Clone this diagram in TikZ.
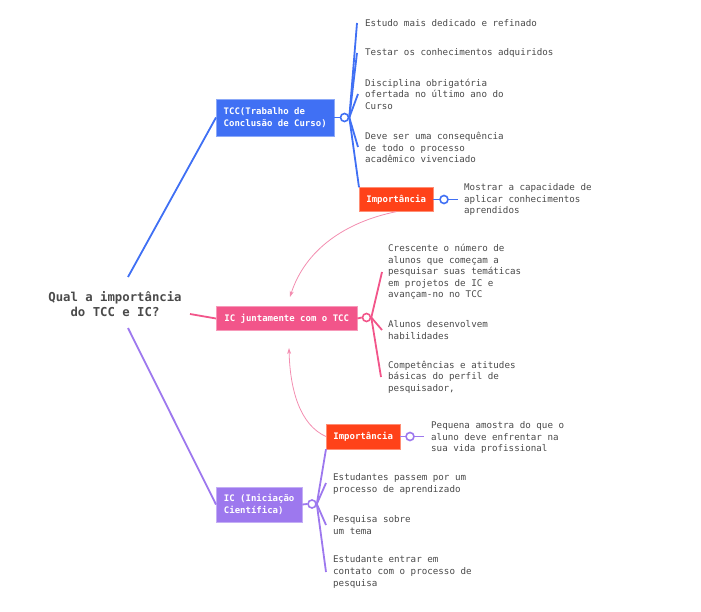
\documentclass[tikz,border=0pt]{standalone}
\usepackage{fontspec}
\setmonofont[WordSpace={1,0,0}]{DejaVu Sans Mono}
\usetikzlibrary{arrows.meta}
\definecolor{cblue}{HTML}{4070F4}
\definecolor{cred}{HTML}{FF4219}
\definecolor{cpink}{HTML}{F2558A}
\definecolor{cpinkl}{HTML}{F38DB0}
\definecolor{cpurple}{HTML}{9D78EE}
\definecolor{ctext}{HTML}{4A4A4A}
\tikzset{
  box/.style={anchor=west, inner xsep=6.5pt, inner ysep=5pt, text=white, font=\ttfamily\bfseries\fontsize{9}{11.6}\selectfont, align=left},
  leaf/.style={anchor=west, inner sep=0pt, text=ctext, font=\ttfamily\fontsize{9.2}{11.6}\selectfont, align=left},
  hub/.style={circle, draw=#1, fill=white, line width=1.6pt, minimum size=8pt, inner sep=0pt},
  link/.style={draw=#1, line width=1.8pt},
  rel/.style={draw=cpinkl, line width=0.8pt, -{Stealth[length=6pt,width=4pt]}},
}
\begin{document}
\begin{tikzpicture}[x=1pt,y=-1pt]
\useasboundingbox (0,0) rectangle (701,612);
% root
\node[font=\ttfamily\bfseries\fontsize{12.3}{15}\selectfont, text=ctext, align=center] (root) at (115,304) {Qual a importância\\do TCC e IC?};
\coordinate (rb) at (128,277);
\coordinate (rp) at (190,314);
\coordinate (ru) at (128,328);

% TCC branch
\node[box, fill=cblue, draw=cblue!60, minimum height=37pt, minimum width=118pt] (tcc) at (216,117.5) {TCC(Trabalho de\\Conclusão de Curso)};
\node[hub=cblue] (h1) at (344.5,117.5) {};
\draw[link=cblue] (rb) -- (tcc.west);
\draw[link=cblue] (tcc.east) -- (h1.west);
\coordinate (e1) at (357,23);
\coordinate (e2) at (357,53);
\coordinate (e3) at (358,94);
\coordinate (e4) at (358,147);
\node[leaf] (t1) at (365,23) {Estudo mais dedicado e refinado};
\node[leaf] (t2) at (365,53) {Testar os conhecimentos adquiridos};
\node[leaf] (t3) at (365,94) {Disciplina obrigatória\\ofertada no último ano do\\Curso};
\node[leaf] (t4) at (365,147.5) {Deve ser uma consequência\\de todo o processo\\acadêmico vivenciado};
\node[box, fill=cred, draw=cred!60, minimum height=24pt, minimum width=74pt] (imp1) at (359,199.5) {Importância};
\foreach \e in {e1,e2,e3,e4} \draw[link=cblue] (h1.east) -- (\e);
\draw[link=cblue] (h1.east) -- (imp1.north west);
\node[hub=cblue] (h2) at (444,199.5) {};
\coordinate (e5) at (458,199.5);
\draw[link=cblue] (imp1.east) -- (h2.west);
\draw[link=cblue] (h2.east) -- (e5);
\node[leaf] (t5) at (464,199.5) {Mostrar a capacidade de\\aplicar conhecimentos\\aprendidos};

% pink branch
\node[box, fill=cpink, draw=cpink!60, minimum height=24pt, minimum width=141pt] (icj) at (216,318.5) {IC juntamente com o TCC};
\node[hub=cpink] (h3) at (366.5,317.5) {};
\draw[link=cpink] (rp) -- (icj.west);
\draw[link=cpink] (icj.east) -- (h3.west);
\coordinate (p1) at (382,272);
\coordinate (p2) at (382,330);
\coordinate (p3) at (381,377);
\foreach \e in {p1,p2,p3} \draw[link=cpink] (h3.east) -- (\e);
\node[leaf] (q1) at (388,272) {Crescente o número de\\alunos que começam a\\pesquisar suas temáticas\\em projetos de IC e\\avançam-no no TCC};
\node[leaf] (q2) at (388,330) {Alunos desenvolvem\\habilidades};
\node[leaf] (q3) at (388,377) {Competências e atitudes\\básicas do perfil de\\pesquisador,};

% purple branch
\node[box, fill=cpurple, draw=cpurple!60, minimum height=35pt, minimum width=86pt] (ic) at (216,504.5) {IC (Iniciação\\Científica)};
\node[hub=cpurple] (h4) at (312,504) {};
\draw[link=cpurple] (ru) -- (ic.west);
\draw[link=cpurple] (ic.east) -- (h4.west);
\node[box, fill=cred, draw=cred!60, minimum height=25pt, minimum width=74pt] (imp2) at (326,436.5) {Importância};
\node[hub=cpurple] (h5) at (410,436.5) {};
\coordinate (u5) at (424,436.5);
\draw[link=cpurple] (imp2.east) -- (h5.west);
\draw[link=cpurple] (h5.east) -- (u5);
\node[leaf] (w5) at (431,437.5) {Pequena amostra do que o\\aluno deve enfrentar na\\sua vida profissional};
\coordinate (u1) at (326,483);
\coordinate (u2) at (326,525);
\coordinate (u3) at (326,572);
\draw[link=cpurple] (h4.east) -- (imp2.south west);
\foreach \e in {u1,u2,u3} \draw[link=cpurple] (h4.east) -- (\e);
\node[leaf] (w1) at (333,484) {Estudantes passem por um\\processo de aprendizado};
\node[leaf] (w2) at (333,525) {Pesquisa sobre\\um tema};
\node[leaf] (w3) at (333,572) {Estudante entrar em\\contato com o processo de\\pesquisa};

% relation arrows
\draw[rel] (imp1.south) .. controls (345,222) and (305,250) .. (290,297);
\draw[rel] (imp2.west) .. controls (300,425) and (290,390) .. (289,348);
\end{tikzpicture}
\end{document}
